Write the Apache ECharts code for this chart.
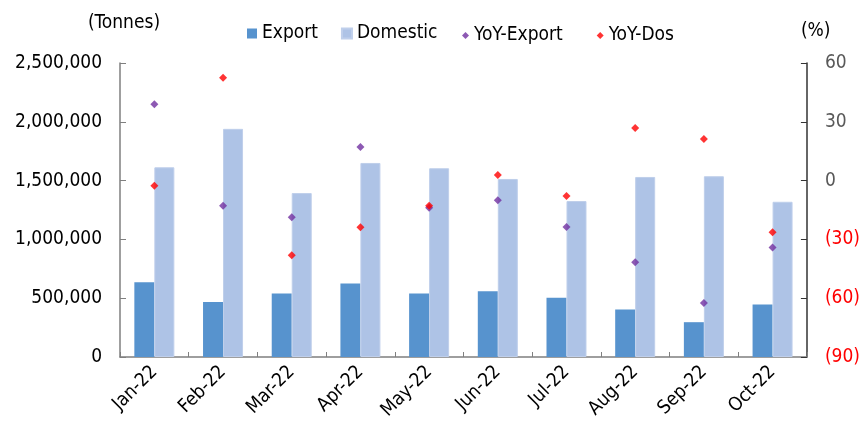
<!DOCTYPE html>
<html>
<head>
<meta charset="utf-8">
<script src="https://cdn.jsdelivr.net/npm/echarts@6/dist/echarts.min.js"></script>
<style>
    html, body { margin: 0; padding: 0; background: #fff; }
    #chart { width: 863px; height: 425px; }
</style>
</head>
<body>
<div id="chart"></div>
<script>
    // 数据
    var months = ['Jan-22', 'Feb-22', 'Mar-22', 'Apr-22', 'May-22', 'Jun-22', 'Jul-22', 'Aug-22', 'Sep-22', 'Oct-22'];
    var exportVol = [635000, 468000, 540000, 625000, 540000, 560000, 503000, 404000, 296000, 446000];
    var domesticVol = [1613000, 1940000, 1394000, 1650000, 1605000, 1514000, 1326000, 1531000, 1537000, 1320000];
    var yoyExport = [39.0, -12.8, -18.7, 17.2, -13.9, -10.0, -23.7, -41.7, -62.5, -34.1];
    var yoyDos = [-2.6, 52.5, -38.1, -23.8, -12.8, 2.9, -7.8, 26.9, 21.2, -26.4];

    var font = '"DejaVu Sans Condensed", "Liberation Sans", sans-serif';

    var chart = echarts.init(document.getElementById('chart'));
    chart.setOption({
        animation: false,
        textStyle: { fontFamily: font },
        grid: { left: 120, right: 55, top: 63, bottom: 68 },
        legend: [{
            left: 242, top: 19,
            itemWidth: 10, itemHeight: 10, itemGap: 23,
            textStyle: { fontSize: 19, color: '#000', fontFamily: font },
            data: [{ name: 'Export', icon: 'rect' }, { name: 'Domestic', icon: 'rect' }]
        }, {
            left: 457, top: 21,
            itemWidth: 7, itemHeight: 7, itemGap: 34,
            textStyle: { fontSize: 19, color: '#000', fontFamily: font },
            data: [{ name: 'YoY-Export', icon: 'diamond' }, { name: 'YoY-Dos', icon: 'diamond' }]
        }],
        xAxis: {
            type: 'category',
            data: months,
            axisLine: { lineStyle: { color: '#7f7f7f', width: 1.5 } },
            axisTick: { show: true, inside: true, length: 5, lineStyle: { color: '#7f7f7f' } },
            axisLabel: { rotate: 45, margin: 12, fontSize: 19, color: '#000', fontFamily: font }
        },
        yAxis: [{
            type: 'value',
            min: 0, max: 2500000, interval: 500000,
            name: '(Tonnes)',
            nameLocation: 'end',
            nameGap: 30,
            nameTextStyle: { fontSize: 19, color: '#000', align: 'center', padding: [0, 0, 0, 8] },
            axisLine: { show: true, lineStyle: { color: '#7f7f7f', width: 1.5 } },
            axisTick: { show: true, inside: true, length: 6, lineStyle: { color: '#7f7f7f' } },
            splitLine: { show: false },
            axisLabel: {
                margin: 18, fontSize: 19, color: '#000', fontFamily: font,
                formatter: function (v) { return String(v).replace(/\B(?=(\d{3})+(?!\d))/g, ','); }
            }
        }, {
            type: 'value',
            min: -90, max: 60, interval: 30,
            position: 'right',
            name: '(%)',
            nameLocation: 'end',
            nameGap: 22,
            nameTextStyle: { fontSize: 19, color: '#000', align: 'left', padding: [0, 0, 0, -6] },
            axisLine: { show: true, lineStyle: { color: '#333', width: 1.5 } },
            axisTick: { show: true, inside: true, length: 6, lineStyle: { color: '#333' } },
            splitLine: { show: false },
            axisLabel: {
                margin: 18, fontSize: 19, fontFamily: font,
                formatter: function (v) {
                    return v < 0 ? '{neg|(' + (-v) + ')}' : '{pos|' + v + '}';
                },
                rich: {
                    neg: { color: '#ff0000', fontSize: 19, fontFamily: font },
                    pos: { color: '#595959', fontSize: 19, fontFamily: font }
                }
            }
        }],
        series: [{
            name: 'Export',
            type: 'bar',
            barWidth: 20,
            barGap: '0%',
            data: exportVol,
            itemStyle: { color: '#5793ce' }
        }, {
            name: 'Domestic',
            type: 'bar',
            barWidth: 20,
            data: domesticVol,
            itemStyle: { color: '#aec3e6', borderColor: '#bfcfeb', borderWidth: 1 }
        }, {
            name: 'YoY-Export',
            type: 'scatter',
            yAxisIndex: 1,
            symbol: 'diamond',
            symbolSize: 8,
            data: yoyExport,
            itemStyle: { color: '#7030a0' }
        }, {
            name: 'YoY-Dos',
            type: 'scatter',
            yAxisIndex: 1,
            symbol: 'diamond',
            symbolSize: 8,
            data: yoyDos,
            itemStyle: { color: '#ff0000' }
        }]
    });
</script>
</body>
</html>
